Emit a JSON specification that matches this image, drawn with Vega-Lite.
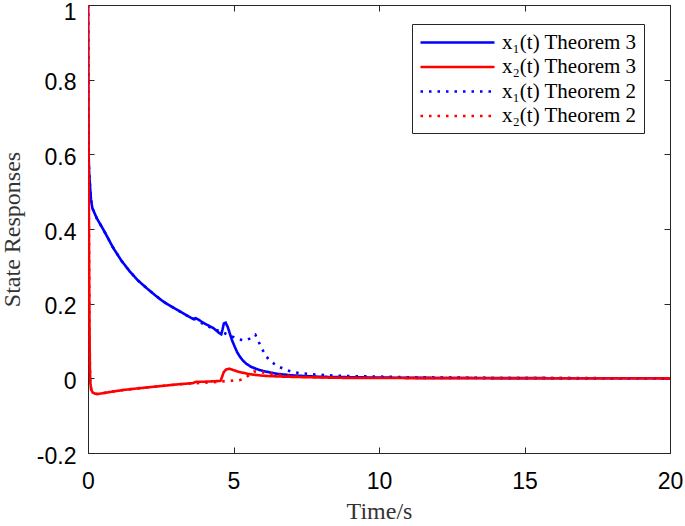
{
  "$schema": "https://vega.github.io/schema/vega-lite/v6.json",
  "width": 582,
  "height": 448,
  "autosize": "none",
  "padding": {"left": 88, "top": 5, "right": 15, "bottom": 73},
  "background": "white",
  "config": {
    "view": {"stroke": "#262626", "strokeWidth": 1},
    "axis": {"grid": false, "labelFlush": false, "domainColor": "#262626", "tickColor": "#262626", "labelColor": "black", "labelFont": "Liberation Sans", "labelFontSize": 23, "titleFont": "Liberation Serif", "titleFontSize": 24, "titleFontWeight": "normal", "titleColor": "#333333"}
  },
  "data": {"values": [
    {"s": "x₁(t) Theorem 3", "t": 0, "v": 1}, {"s": "x₁(t) Theorem 3", "t": 0.005, "v": 0.85}, {"s": "x₁(t) Theorem 3", "t": 0.01, "v": 0.7}, {"s": "x₁(t) Theorem 3", "t": 0.02, "v": 0.6}, {"s": "x₁(t) Theorem 3", "t": 0.04, "v": 0.55}, {"s": "x₁(t) Theorem 3", "t": 0.07, "v": 0.514}, {"s": "x₁(t) Theorem 3", "t": 0.1, "v": 0.48}, {"s": "x₁(t) Theorem 3", "t": 0.15, "v": 0.456}, {"s": "x₁(t) Theorem 3", "t": 0.3, "v": 0.429}, {"s": "x₁(t) Theorem 3", "t": 0.53, "v": 0.398}, {"s": "x₁(t) Theorem 3", "t": 0.87, "v": 0.349}, {"s": "x₁(t) Theorem 3", "t": 1.15, "v": 0.315}, {"s": "x₁(t) Theorem 3", "t": 1.44, "v": 0.286}, {"s": "x₁(t) Theorem 3", "t": 1.72, "v": 0.262}, {"s": "x₁(t) Theorem 3", "t": 2.01, "v": 0.242}, {"s": "x₁(t) Theorem 3", "t": 2.3, "v": 0.223}, {"s": "x₁(t) Theorem 3", "t": 2.58, "v": 0.206}, {"s": "x₁(t) Theorem 3", "t": 2.87, "v": 0.192}, {"s": "x₁(t) Theorem 3", "t": 3.16, "v": 0.179}, {"s": "x₁(t) Theorem 3", "t": 3.4, "v": 0.168}, {"s": "x₁(t) Theorem 3", "t": 3.62, "v": 0.159}, {"s": "x₁(t) Theorem 3", "t": 3.7, "v": 0.161}, {"s": "x₁(t) Theorem 3", "t": 3.78, "v": 0.158}, {"s": "x₁(t) Theorem 3", "t": 3.9, "v": 0.152}, {"s": "x₁(t) Theorem 3", "t": 4.1, "v": 0.143}, {"s": "x₁(t) Theorem 3", "t": 4.3, "v": 0.135}, {"s": "x₁(t) Theorem 3", "t": 4.5, "v": 0.122}, {"s": "x₁(t) Theorem 3", "t": 4.58, "v": 0.118}, {"s": "x₁(t) Theorem 3", "t": 4.62, "v": 0.13}, {"s": "x₁(t) Theorem 3", "t": 4.67, "v": 0.147}, {"s": "x₁(t) Theorem 3", "t": 4.73, "v": 0.149}, {"s": "x₁(t) Theorem 3", "t": 4.8, "v": 0.138}, {"s": "x₁(t) Theorem 3", "t": 4.87, "v": 0.121}, {"s": "x₁(t) Theorem 3", "t": 4.95, "v": 0.102}, {"s": "x₁(t) Theorem 3", "t": 5.04, "v": 0.085}, {"s": "x₁(t) Theorem 3", "t": 5.12, "v": 0.071}, {"s": "x₁(t) Theorem 3", "t": 5.21, "v": 0.059}, {"s": "x₁(t) Theorem 3", "t": 5.32, "v": 0.048}, {"s": "x₁(t) Theorem 3", "t": 5.44, "v": 0.039}, {"s": "x₁(t) Theorem 3", "t": 5.6, "v": 0.031}, {"s": "x₁(t) Theorem 3", "t": 5.79, "v": 0.025}, {"s": "x₁(t) Theorem 3", "t": 6.0, "v": 0.02}, {"s": "x₁(t) Theorem 3", "t": 6.24, "v": 0.016}, {"s": "x₁(t) Theorem 3", "t": 6.5, "v": 0.012}, {"s": "x₁(t) Theorem 3", "t": 7.0, "v": 0.008}, {"s": "x₁(t) Theorem 3", "t": 7.5, "v": 0.006}, {"s": "x₁(t) Theorem 3", "t": 8, "v": 0.004}, {"s": "x₁(t) Theorem 3", "t": 9, "v": 0.003}, {"s": "x₁(t) Theorem 3", "t": 10, "v": 0.002}, {"s": "x₁(t) Theorem 3", "t": 12, "v": 0.001}, {"s": "x₁(t) Theorem 3", "t": 15, "v": 0.0005}, {"s": "x₁(t) Theorem 3", "t": 20, "v": 0},

    {"s": "x₂(t) Theorem 3", "t": 0, "v": 1}, {"s": "x₂(t) Theorem 3", "t": 0.01, "v": 0.8}, {"s": "x₂(t) Theorem 3", "t": 0.02, "v": 0.6}, {"s": "x₂(t) Theorem 3", "t": 0.035, "v": 0.35}, {"s": "x₂(t) Theorem 3", "t": 0.05, "v": 0.15}, {"s": "x₂(t) Theorem 3", "t": 0.065, "v": 0.03}, {"s": "x₂(t) Theorem 3", "t": 0.08, "v": -0.012}, {"s": "x₂(t) Theorem 3", "t": 0.11, "v": -0.03}, {"s": "x₂(t) Theorem 3", "t": 0.16, "v": -0.038}, {"s": "x₂(t) Theorem 3", "t": 0.24, "v": -0.041}, {"s": "x₂(t) Theorem 3", "t": 0.32, "v": -0.042}, {"s": "x₂(t) Theorem 3", "t": 0.5, "v": -0.04}, {"s": "x₂(t) Theorem 3", "t": 0.8, "v": -0.036}, {"s": "x₂(t) Theorem 3", "t": 1.24, "v": -0.031}, {"s": "x₂(t) Theorem 3", "t": 1.7, "v": -0.027}, {"s": "x₂(t) Theorem 3", "t": 2.2, "v": -0.023}, {"s": "x₂(t) Theorem 3", "t": 2.6, "v": -0.02}, {"s": "x₂(t) Theorem 3", "t": 3.1, "v": -0.016}, {"s": "x₂(t) Theorem 3", "t": 3.6, "v": -0.013}, {"s": "x₂(t) Theorem 3", "t": 3.68, "v": -0.01}, {"s": "x₂(t) Theorem 3", "t": 3.8, "v": -0.009}, {"s": "x₂(t) Theorem 3", "t": 4.0, "v": -0.009}, {"s": "x₂(t) Theorem 3", "t": 4.3, "v": -0.008}, {"s": "x₂(t) Theorem 3", "t": 4.55, "v": -0.007}, {"s": "x₂(t) Theorem 3", "t": 4.6, "v": 0.002}, {"s": "x₂(t) Theorem 3", "t": 4.66, "v": 0.016}, {"s": "x₂(t) Theorem 3", "t": 4.75, "v": 0.024}, {"s": "x₂(t) Theorem 3", "t": 4.85, "v": 0.026}, {"s": "x₂(t) Theorem 3", "t": 5.0, "v": 0.022}, {"s": "x₂(t) Theorem 3", "t": 5.2, "v": 0.017}, {"s": "x₂(t) Theorem 3", "t": 5.56, "v": 0.011}, {"s": "x₂(t) Theorem 3", "t": 6.0, "v": 0.007}, {"s": "x₂(t) Theorem 3", "t": 6.5, "v": 0.005}, {"s": "x₂(t) Theorem 3", "t": 7.5, "v": 0.003}, {"s": "x₂(t) Theorem 3", "t": 9, "v": 0.001}, {"s": "x₂(t) Theorem 3", "t": 12, "v": 0.0005}, {"s": "x₂(t) Theorem 3", "t": 20, "v": 0},

    {"s": "x₁(t) Theorem 2", "t": 0, "v": 1}, {"s": "x₁(t) Theorem 2", "t": 0.005, "v": 0.85}, {"s": "x₁(t) Theorem 2", "t": 0.01, "v": 0.7}, {"s": "x₁(t) Theorem 2", "t": 0.02, "v": 0.6}, {"s": "x₁(t) Theorem 2", "t": 0.04, "v": 0.55}, {"s": "x₁(t) Theorem 2", "t": 0.07, "v": 0.514}, {"s": "x₁(t) Theorem 2", "t": 0.1, "v": 0.48}, {"s": "x₁(t) Theorem 2", "t": 0.15, "v": 0.456}, {"s": "x₁(t) Theorem 2", "t": 0.3, "v": 0.429}, {"s": "x₁(t) Theorem 2", "t": 0.53, "v": 0.398}, {"s": "x₁(t) Theorem 2", "t": 0.87, "v": 0.349}, {"s": "x₁(t) Theorem 2", "t": 1.15, "v": 0.315}, {"s": "x₁(t) Theorem 2", "t": 1.44, "v": 0.286}, {"s": "x₁(t) Theorem 2", "t": 1.72, "v": 0.262}, {"s": "x₁(t) Theorem 2", "t": 2.01, "v": 0.242}, {"s": "x₁(t) Theorem 2", "t": 2.3, "v": 0.223}, {"s": "x₁(t) Theorem 2", "t": 2.58, "v": 0.206}, {"s": "x₁(t) Theorem 2", "t": 2.87, "v": 0.192}, {"s": "x₁(t) Theorem 2", "t": 3.16, "v": 0.179}, {"s": "x₁(t) Theorem 2", "t": 3.4, "v": 0.168}, {"s": "x₁(t) Theorem 2", "t": 3.62, "v": 0.159}, {"s": "x₁(t) Theorem 2", "t": 3.7, "v": 0.158}, {"s": "x₁(t) Theorem 2", "t": 3.8, "v": 0.153}, {"s": "x₁(t) Theorem 2", "t": 4.0, "v": 0.144}, {"s": "x₁(t) Theorem 2", "t": 4.3, "v": 0.133}, {"s": "x₁(t) Theorem 2", "t": 4.6, "v": 0.124}, {"s": "x₁(t) Theorem 2", "t": 4.9, "v": 0.114}, {"s": "x₁(t) Theorem 2", "t": 5.2, "v": 0.104}, {"s": "x₁(t) Theorem 2", "t": 5.4, "v": 0.101}, {"s": "x₁(t) Theorem 2", "t": 5.55, "v": 0.106}, {"s": "x₁(t) Theorem 2", "t": 5.68, "v": 0.115}, {"s": "x₁(t) Theorem 2", "t": 5.75, "v": 0.117}, {"s": "x₁(t) Theorem 2", "t": 5.85, "v": 0.1}, {"s": "x₁(t) Theorem 2", "t": 6.0, "v": 0.076}, {"s": "x₁(t) Theorem 2", "t": 6.13, "v": 0.058}, {"s": "x₁(t) Theorem 2", "t": 6.3, "v": 0.044}, {"s": "x₁(t) Theorem 2", "t": 6.53, "v": 0.032}, {"s": "x₁(t) Theorem 2", "t": 6.76, "v": 0.024}, {"s": "x₁(t) Theorem 2", "t": 7.0, "v": 0.018}, {"s": "x₁(t) Theorem 2", "t": 7.27, "v": 0.014}, {"s": "x₁(t) Theorem 2", "t": 7.7, "v": 0.011}, {"s": "x₁(t) Theorem 2", "t": 8.3, "v": 0.008}, {"s": "x₁(t) Theorem 2", "t": 9.0, "v": 0.006}, {"s": "x₁(t) Theorem 2", "t": 9.8, "v": 0.005}, {"s": "x₁(t) Theorem 2", "t": 11, "v": 0.003}, {"s": "x₁(t) Theorem 2", "t": 12.5, "v": 0.002}, {"s": "x₁(t) Theorem 2", "t": 14, "v": 0.001}, {"s": "x₁(t) Theorem 2", "t": 20, "v": 0},

    {"s": "x₂(t) Theorem 2", "t": 0, "v": 1}, {"s": "x₂(t) Theorem 2", "t": 0.01, "v": 0.8}, {"s": "x₂(t) Theorem 2", "t": 0.02, "v": 0.6}, {"s": "x₂(t) Theorem 2", "t": 0.035, "v": 0.35}, {"s": "x₂(t) Theorem 2", "t": 0.05, "v": 0.15}, {"s": "x₂(t) Theorem 2", "t": 0.065, "v": 0.03}, {"s": "x₂(t) Theorem 2", "t": 0.08, "v": -0.012}, {"s": "x₂(t) Theorem 2", "t": 0.11, "v": -0.03}, {"s": "x₂(t) Theorem 2", "t": 0.16, "v": -0.038}, {"s": "x₂(t) Theorem 2", "t": 0.24, "v": -0.041}, {"s": "x₂(t) Theorem 2", "t": 0.32, "v": -0.042}, {"s": "x₂(t) Theorem 2", "t": 0.5, "v": -0.04}, {"s": "x₂(t) Theorem 2", "t": 0.8, "v": -0.036}, {"s": "x₂(t) Theorem 2", "t": 1.24, "v": -0.031}, {"s": "x₂(t) Theorem 2", "t": 1.7, "v": -0.027}, {"s": "x₂(t) Theorem 2", "t": 2.2, "v": -0.023}, {"s": "x₂(t) Theorem 2", "t": 2.6, "v": -0.02}, {"s": "x₂(t) Theorem 2", "t": 3.1, "v": -0.016}, {"s": "x₂(t) Theorem 2", "t": 3.6, "v": -0.013}, {"s": "x₂(t) Theorem 2", "t": 3.7, "v": -0.013}, {"s": "x₂(t) Theorem 2", "t": 3.9, "v": -0.012}, {"s": "x₂(t) Theorem 2", "t": 4.2, "v": -0.011}, {"s": "x₂(t) Theorem 2", "t": 4.5, "v": -0.009}, {"s": "x₂(t) Theorem 2", "t": 4.76, "v": -0.007}, {"s": "x₂(t) Theorem 2", "t": 5.0, "v": -0.006}, {"s": "x₂(t) Theorem 2", "t": 5.2, "v": -0.005}, {"s": "x₂(t) Theorem 2", "t": 5.4, "v": 0.0}, {"s": "x₂(t) Theorem 2", "t": 5.55, "v": 0.01}, {"s": "x₂(t) Theorem 2", "t": 5.7, "v": 0.018}, {"s": "x₂(t) Theorem 2", "t": 5.85, "v": 0.019}, {"s": "x₂(t) Theorem 2", "t": 6.07, "v": 0.015}, {"s": "x₂(t) Theorem 2", "t": 6.5, "v": 0.01}, {"s": "x₂(t) Theorem 2", "t": 7.0, "v": 0.006}, {"s": "x₂(t) Theorem 2", "t": 7.5, "v": 0.004}, {"s": "x₂(t) Theorem 2", "t": 9, "v": 0.002}, {"s": "x₂(t) Theorem 2", "t": 12, "v": 0.001}, {"s": "x₂(t) Theorem 2", "t": 20, "v": 0}
  ]},
  "layer": [
    {
      "mark": {"type": "line", "strokeWidth": 2.6, "strokeCap": "butt", "clip": true},
      "encoding": {
        "x": {"field": "t", "type": "quantitative", "scale": {"domain": [0, 20], "nice": false, "zero": false},
          "axis": {"values": [0, 5, 10, 15, 20], "tickSize": -6, "labelPadding": 23, "title": "Time/s", "titlePadding": 6}},
        "y": {"field": "v", "type": "quantitative", "scale": {"domain": [-0.2, 1], "nice": false, "zero": false},
          "axis": {"values": [-0.2, 0, 0.2, 0.4, 0.6, 0.8, 1], "tickSize": -6, "labelPadding": 18,
            "labelOffset": {"condition": {"test": "datum.value == 1", "value": 7}, "value": 3},
            "title": "State Responses", "titlePadding": 12,
            "labelExpr": "datum.value < 0 ? '-' + format(-datum.value, '~g') : format(datum.value, '~g')"}},
        "color": {"field": "s", "type": "nominal",
          "scale": {"domain": ["x₁(t) Theorem 3", "x₂(t) Theorem 3", "x₁(t) Theorem 2", "x₂(t) Theorem 2"], "range": ["#0000ff", "#ff0000", "#0000ff", "#ff0000"]},
          "legend": {"orient": "none", "legendX": 324, "legendY": 19, "title": null, "symbolType": "M-1,0H6.4", "symbolSize": 400, "symbolStrokeWidth": 2.6, "labelFont": "Liberation Serif", "labelFontSize": 21, "labelColor": "black", "labelOffset": 60, "rowPadding": 2.5, "padding": 7, "strokeColor": "#262626", "fillColor": "white"}},
        "strokeDash": {"field": "s", "type": "nominal",
          "scale": {"domain": ["x₁(t) Theorem 3", "x₂(t) Theorem 3", "x₁(t) Theorem 2", "x₂(t) Theorem 2"], "range": [[1, 0], [1, 0], [2.5, 6], [2.5, 6]]}}
      }
    },
    {
      "mark": {"type": "line", "opacity": 0},
      "encoding": {
        "x": {"field": "t", "type": "quantitative", "scale": {"domain": [0, 20], "nice": false, "zero": false},
          "axis": {"orient": "top", "values": [0, 5, 10, 15, 20], "tickSize": -6, "labels": false, "title": null}},
        "y": {"field": "v", "type": "quantitative", "scale": {"domain": [-0.2, 1], "nice": false, "zero": false},
          "axis": {"orient": "right", "values": [-0.2, 0, 0.2, 0.4, 0.6, 0.8, 1], "tickSize": -6, "labels": false, "title": null}}
      }
    }
  ],
  "resolve": {"axis": {"x": "independent", "y": "independent"}}
}
